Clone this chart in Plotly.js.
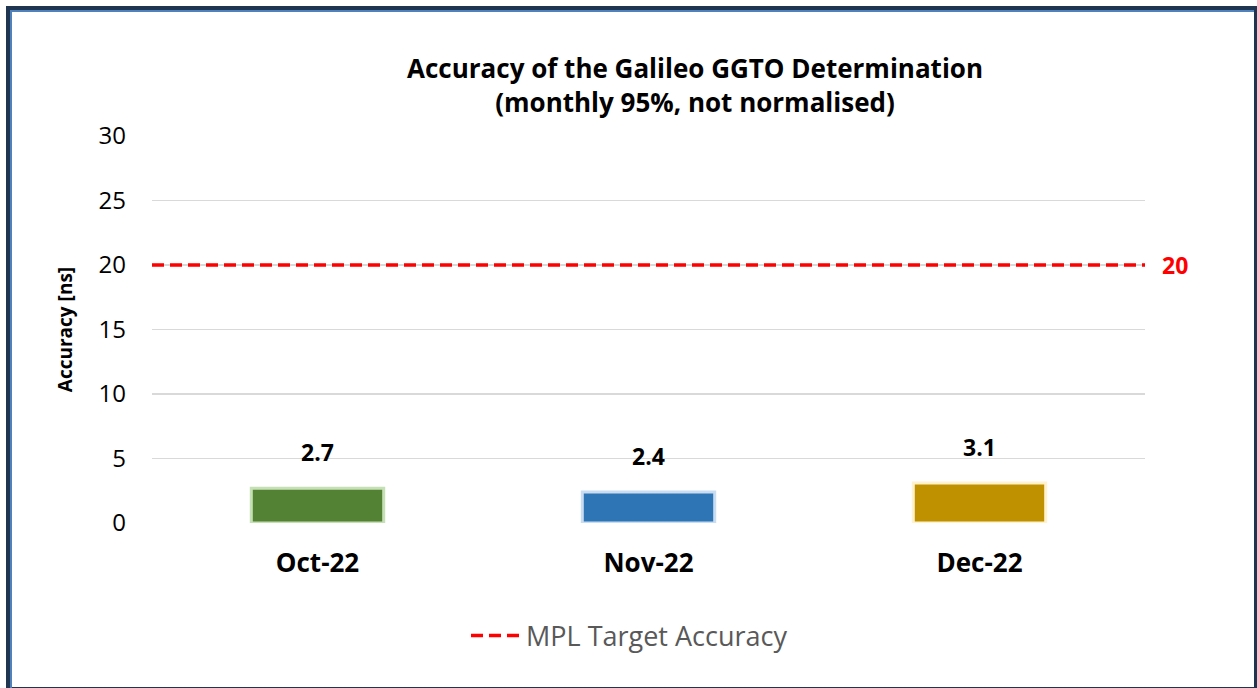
<!DOCTYPE html>
<html>
<head>
<meta charset="utf-8">
<script src="https://cdn.plot.ly/plotly-3.0.1.min.js"></script>
<style>html,body{margin:0;padding:0;background:#fff;}#chart{width:1257px;height:688px;}</style>
</head>
<body>
<div id="chart"></div>
<script>
const categories = ["Oct-22", "Nov-22", "Dec-22"];
const accuracy = [2.7, 2.4, 3.1];
const labels = ["2.7", "2.4", "3.1"];
const targetValue = 20;
const targetName = "MPL Target Accuracy";
const yTicks = [0, 5, 10, 15, 20, 25, 30];

const fillColors = ["#548235", "#2e75b6", "#bf9000"];
const edgeColors = ["#c5e0b4", "#c9ddf2", "#fff2cc"];

const L = 152, R = 1145, T = 136, B = 523;
const W = R - L, H = B - T;
const px = v => (v - L) / W;
const py = v => (B - v) / H;
const FONT = "Open Sans, sans-serif";

const bars = {
  type: "bar",
  x: categories,
  y: accuracy,
  width: 0.4,
  marker: {color: fillColors, line: {color: edgeColors, width: 3}},
  showlegend: false,
  hoverinfo: "x+y"
};
const target = {
  type: "scatter",
  mode: "lines",
  x: [0, 1],
  y: [targetValue, targetValue],
  xaxis: "x2",
  name: targetName,
  line: {color: "#ff0000", width: 3.5, dash: "12px,6px"}
};

const annotations = categories.map((c, i) => ({
  x: c, y: accuracy[i], xref: "x", yref: "y",
  text: "<b>" + labels[i] + "</b>", showarrow: false,
  yshift: 36, font: {family: FONT, size: 23, color: "#000"}
}));
annotations.push({
  x: px(1175), y: targetValue, xref: "paper", yref: "y", xanchor: "center",
  text: "<b>" + targetValue + "</b>", showarrow: false,
  font: {family: FONT, size: 23, color: "#ff0000"}
});

const layout = {
  width: 1257, height: 688,
  margin: {l: L, r: 1257 - R, t: T, b: 688 - B},
  paper_bgcolor: "#fff", plot_bgcolor: "#fff",
  title: {
    text: "<b>Accuracy of the Galileo GGTO Determination<br>(monthly 95%, not normalised)</b>",
    x: 695 / 1257, xanchor: "center", y: 1 - 78 / 688, yanchor: "middle",
    font: {family: FONT, size: 26, color: "#000"}
  },
  xaxis: {
    type: "category", showgrid: false, zeroline: false, showline: false,
    tickfont: {family: FONT, size: 26, color: "#000"},
    tickprefix: "<b>", ticksuffix: "</b>", ticklen: 0, ticks: "", ticklabelstandoff: 22
  },
  xaxis2: {overlaying: "x", range: [0, 1], visible: false},
  yaxis: {
    range: [0, 30], tickvals: yTicks, showgrid: true, gridcolor: "#d9d9d9", gridwidth: 1.3,
    zeroline: false, showline: false, ticks: "",
    tickfont: {family: FONT, size: 24, color: "#000"},
    ticklabelstandoff: 25,
    title: {text: "<b>Accuracy [ns]</b>", font: {family: FONT, size: 19, color: "#000"}, standoff: 20}
  },
  showlegend: true,
  legend: {
    orientation: "h", x: px(466), xanchor: "left", y: py(636), yanchor: "middle",
    itemwidth: 50,
    font: {family: FONT, size: 27, color: "#595959"},
    bgcolor: "rgba(0,0,0,0)"
  },
  annotations: annotations,
  shapes: [
    {type: "rect", xref: "paper", yref: "paper", x0: px(8), x1: px(1256), y0: py(8), y1: py(689),
     line: {color: "#1f3550", width: 4}, fillcolor: "rgba(0,0,0,0)", layer: "above"},
    {type: "line", xref: "paper", yref: "paper", x0: px(11), x1: px(11), y0: py(10), y1: py(688),
     line: {color: "#4f81bd", width: 2}},
    {type: "line", xref: "paper", yref: "paper", x0: px(10), x1: px(1254), y0: py(11), y1: py(11),
     line: {color: "#4f81bd", width: 2}}
  ]
};

Plotly.newPlot("chart", [bars, target], layout, {displayModeBar: false, staticPlot: true});
</script>
</body>
</html>
